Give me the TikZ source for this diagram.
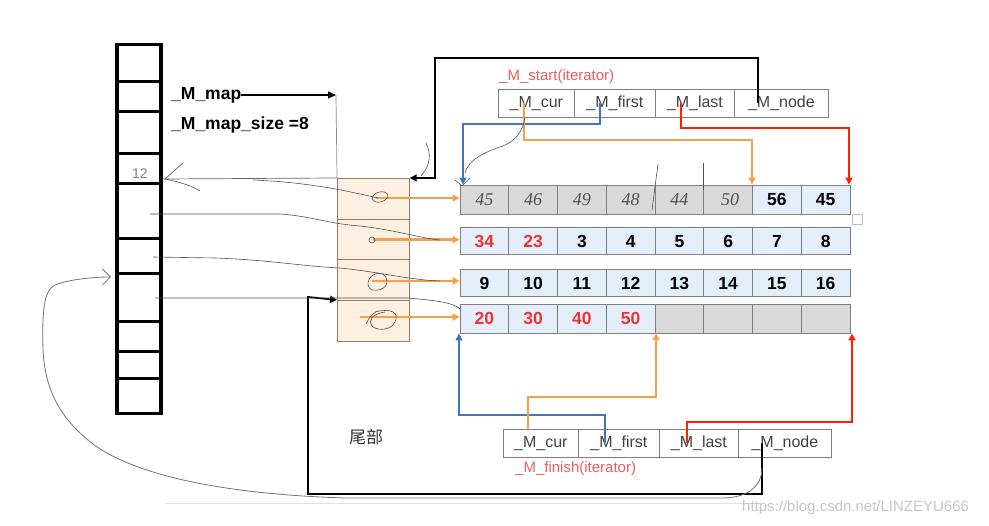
\documentclass[tikz,border=0pt]{standalone}
\usepackage{fontspec}
\setmainfont{Liberation Sans}
\newfontfamily\cjk{Noto Sans CJK SC}
\newfontfamily\handfont{Liberation Serif}
\usetikzlibrary{arrows.meta,calc}
\definecolor{cellblue}{HTML}{E4EEFA}
\definecolor{cellgray}{HTML}{D9D9D9}
\definecolor{cellborder}{HTML}{7F7F7F}
\definecolor{peach}{HTML}{FDF0E1}
\definecolor{peachb}{HTML}{8E7B6C}
\definecolor{numred}{HTML}{EE3333}
\definecolor{arrblue}{HTML}{4472C4}
\definecolor{arrorange}{HTML}{F4A04C}
\definecolor{arrred}{HTML}{FF2200}
\definecolor{iterred}{HTML}{F25C5C}
\definecolor{hand}{HTML}{505050}
\definecolor{itertext}{HTML}{404040}
\begin{document}
\begin{tikzpicture}[x=1pt,y=-1pt,
  mapcell/.style={draw=black,line width=3.5pt,minimum width=44pt,inner sep=0pt,anchor=north},
  colcell/.style={draw=peachb,fill=peach,line width=0.7pt,minimum width=72pt,inner sep=0pt,anchor=north west},
  bufcell/.style={draw=cellborder,fill=cellblue,line width=0.8pt,minimum width=48.75pt,inner sep=0pt,
    text height=12.5pt,text depth=0pt,font=\bfseries\fontsize{17.5}{20}\selectfont},
  graycell/.style={bufcell,fill=cellgray},
  itcell/.style={draw=cellborder,fill=white,line width=0.8pt,inner sep=0pt,anchor=north west,
    text=itertext,font=\fontsize{16}{19}\selectfont},
  handnum/.style={text=hand,font=\handfont\itshape\fontsize{18}{20}\selectfont},
  handline/.style={draw=hand,line width=0.6pt},
  orarrow/.style={draw=arrorange,line width=2.4pt,-{Triangle[length=7pt,width=7pt]}},
  bluearrow/.style={draw=arrblue,line width=1.4pt,-{Triangle[length=7pt,width=7pt]}},
  orthin/.style={draw=arrorange,line width=1.4pt,-{Triangle[length=7pt,width=7pt]}},
  redarrow/.style={draw=arrred,line width=2pt,-{Triangle[length=7pt,width=7pt]}},
  blkarrow/.style={draw=black,line width=2pt,-{Triangle[length=7pt,width=7pt]}},
  thinblk/.style={draw=black,line width=1.2pt,-{Triangle[length=8pt,width=7pt]}},
  boldlabel/.style={font=\bfseries\fontsize{17.5}{20}\selectfont,anchor=west,inner sep=0pt}
]
\useasboundingbox (0,0) rectangle (989,526);
\fill[white] (0,0) rectangle (989,526);

% faint separator line at bottom
\draw[draw=black!12,line width=0.8pt] (165,503) -- (760,503);

% ---------- map array ----------
\foreach \t/\h [count=\i] in {43/37,80/30,110/42,152/30,182/55,237/35,272/48,320/30,350/27,377/35}
  \node[mapcell,minimum height=\h pt] (m\i) at (139,\t) {};
\node[text=black!50,font=\fontsize{14}{15}\selectfont] (twelve) at (140,174) {12};

\node[boldlabel] (maplbl) at (171,95) {\_M\_map};
\node[boldlabel] (sizelbl) at (171,125) {\_M\_map\_size =8};
\coordinate (mapc) at (336,95);
\draw[thinblk] (maplbl.east) -- (mapc);

% ---------- map node column ----------
\node[colcell,minimum height=41pt] (c1) at (337,178) {};
\node[colcell,minimum height=40.5pt] (c2) at (337,219) {};
\node[colcell,minimum height=40.5pt] (c3) at (337,259.5) {};
\node[colcell,minimum height=41pt] (c4) at (337,300) {};
\draw[draw=black!45,line width=0.7pt] (mapc) -- (c1.north west);

% ---------- buffers ----------
% row 1
\foreach \v [count=\j] in {45,46,49,48,44,50}
  \node[graycell,minimum height=29pt] (r1c\j) at ({460+48.75*(\j-0.5)},199.5) {};
\foreach \v [count=\j] in {56,45}
  \node[bufcell,minimum height=29pt] (r1c\the\numexpr\j+6\relax) at ({460+48.75*(\j+5.5)},199.5) {\v};
\foreach \v/\dx [count=\j] in {45/0,46/0,49/0,48/0,44/0,50/2}
  \node[handnum] (h\j) at ({460+48.75*(\j-0.5)+\dx},200) {\v};
% row 2
\foreach \v [count=\j] in {34,23}
  \node[bufcell,minimum height=27pt,text=numred] (r2c\j) at ({460+48.75*(\j-0.5)},241) {\v};
\foreach \v [count=\j] in {3,4,5,6,7,8}
  \node[bufcell,minimum height=27pt] (r2c\the\numexpr\j+2\relax) at ({460+48.75*(\j+1.5)},241) {\v};
% row 3
\foreach \v [count=\j] in {9,10,11,12,13,14,15,16}
  \node[bufcell,minimum height=27pt] (r3c\j) at ({460+48.75*(\j-0.5)},283) {\v};
% row 4
\foreach \v [count=\j] in {20,30,40,50}
  \node[bufcell,minimum height=29pt,text=numred] (r4c\j) at ({460+48.75*(\j-0.5)},318.5) {\v};
\foreach \j in {5,6,7,8}
  \node[graycell,minimum height=29pt] (r4c\j) at ({460+48.75*(\j-0.5)},318.5) {};

% small faint square at right
\node[draw=black!25,line width=0.6pt,minimum size=10pt,inner sep=0pt] (sq) at (857,219) {};

% ---------- top iterator ----------
\node[text=iterred,font=\fontsize{15}{18}\selectfont,anchor=west,inner sep=0pt] (startlbl) at (499,77) {\_M\_start(iterator)};
\node[itcell,minimum width=76pt,minimum height=28pt] (t1) at (498,89) {\_M\_cur};
\node[itcell,minimum width=81pt,minimum height=28pt] (t2) at (574,89) {\_M\_first};
\node[itcell,minimum width=79pt,minimum height=28pt] (t3) at (655,89) {\_M\_last};
\node[itcell,minimum width=94pt,minimum height=28pt] (t4) at (734,89) {\_M\_node};

% ---------- bottom iterator ----------
\node[itcell,minimum width=75pt,minimum height=28pt] (b1) at (503,429) {\_M\_cur};
\node[itcell,minimum width=81pt,minimum height=28pt] (b2) at (578,429) {\_M\_first};
\node[itcell,minimum width=79pt,minimum height=28pt] (b3) at (659,429) {\_M\_last};
\node[itcell,minimum width=93pt,minimum height=28pt] (b4) at (738,429) {\_M\_node};
\node[text=iterred,font=\fontsize{15}{18}\selectfont,anchor=west,inner sep=0pt] (finlbl) at (515,469) {\_M\_finish(iterator)};
\node[font=\cjk\fontsize{17}{20}\selectfont,text=black!80] (tail) at (366,437) {尾部};

% ---------- connectors: top iterator ----------
\coordinate (tk1) at (758,58);
\coordinate (tk2) at (435,58);
\coordinate (tk3) at (435,178);
\draw[blkarrow] (t4.center -| tk1) -- (tk1) -- (tk2) -- (tk3) -- (c1.north east);

\coordinate (tb1) at (600,124);
\coordinate (tb2) at (463,124);
\draw[bluearrow] (t2.center -| tb1) -- (tb1) -- (tb2) -- (tb2 |- r1c1.north);

\coordinate (to1) at (524,140);
\coordinate (to2) at (752,140);
\draw[orthin] (t1.center -| to1) -- (to1) -- (to2) -- (to2 |- r1c7.north);

\coordinate (tr1) at (681,128);
\coordinate (tr2) at (849,128);
\draw[redarrow] (t3.center -| tr1) -- (tr1) -- (tr2) -- (tr2 |- r1c8.north);

% ---------- connectors: bottom iterator ----------
\coordinate (bb1) at (605,415);
\coordinate (bb2) at (459,415);
\draw[bluearrow] (b2.center -| bb1) -- (bb1) -- (bb2) -- (bb2 |- r4c1.south);

\coordinate (bo1) at (528,397);
\coordinate (bo2) at (656,397);
\draw[orthin] (b1.north -| bo1) -- (bo1) -- (bo2) -- (bo2 |- r4c5.south);

\coordinate (br1) at (687,422);
\coordinate (br2) at (852,422);
\draw[redarrow] (b3.center -| br1) -- (br1) -- (br2) -- (br2 |- r4c8.south);

\coordinate (bk1) at (762,494);
\coordinate (bk2) at (308,494);
\coordinate (bk3) at (308,297);
\draw[blkarrow,line width=1.8pt] (b4.center -| bk1) -- (bk1) -- (bk2) -- (bk3) -- (c4.north west);

% ---------- orange arrows from map nodes ----------
\draw[orarrow] (376,198) -- (r1c1.west |- 0,198);
\draw[orarrow] (c2.center) -- (r2c1.west |- c2.center);
\draw[orarrow] (372,281) -- (r3c1.west |- 0,281);
\draw[orarrow] (360,317) -- (r4c1.west |- 0,317);

% ---------- handwritten strokes ----------
\draw[handline,rotate around={15:(380,197)}] (380,197) ellipse (8pt and 5pt);
\draw[handline] (372,240) circle (3pt);
\draw[handline] (383,274) .. controls (370,270) and (363,286) .. (372,290) .. controls (385,292) and (392,282) .. (383,274);
\draw[handline] (375,312) .. controls (390,308) and (400,312) .. (395,322) .. controls (390,332) and (375,330) .. (372,326) .. controls (368,320) and (372,314) .. (385,312) (366,324) .. controls (370,316) and (374,312) .. (378,311);

\draw[draw=black!60,line width=0.7pt] (m4.south east |- 0,179) -- (c1.north west);
\draw[handline] (253,180) .. controls (300,182) and (335,188) .. (378,198);
\draw[handline] (183,163) -- (165,179) .. controls (180,182) and (192,186) .. (200,191);
\draw[handline] (150,214) -- (280,214) .. controls (310,216) and (330,224) .. (360,226) .. controls (395,230) and (420,238) .. (440,240);
\draw[handline] (153,257) -- (215,258) .. controls (270,260) and (300,266) .. (340,268) .. controls (380,272) and (410,280) .. (440,281);
\draw[handline] (155,298) -- (408,298) .. controls (430,300) and (455,302) .. (461,310);
\draw[handline] (525,117) .. controls (523,132) and (515,142) .. (500,147) .. controls (485,152) and (468,160) .. (465,173);
\draw[handline] (455,180) -- (462,186) -- (470,178);
\draw[handline] (426,143) .. controls (431,153) and (431,165) .. (421,176);
\draw[handline] (658,164) -- (652,210);
\draw[handline] (703,163) -- (703,190);
% bottom returning curve
\draw[draw=black!55,line width=0.8pt,-{Straight Barb[length=8pt,width=16pt]}]
  (762,468) .. controls (762,488) and (745,498) .. (722,498) -- (345,498)
  .. controls (250,495) and (150,482) .. (97,447)
  .. controls (60,420) and (45,390) .. (43,350)
  .. controls (42,310) and (44,290) .. (55,285)
  .. controls (70,279) and (95,277) .. (111,277);

% watermark
\node[text=black!22,font=\fontsize{15}{18}\selectfont,anchor=west,inner sep=0pt] (wm) at (742,508) {https://blog.csdn.net/LINZEYU666};
\end{tikzpicture}
\end{document}
